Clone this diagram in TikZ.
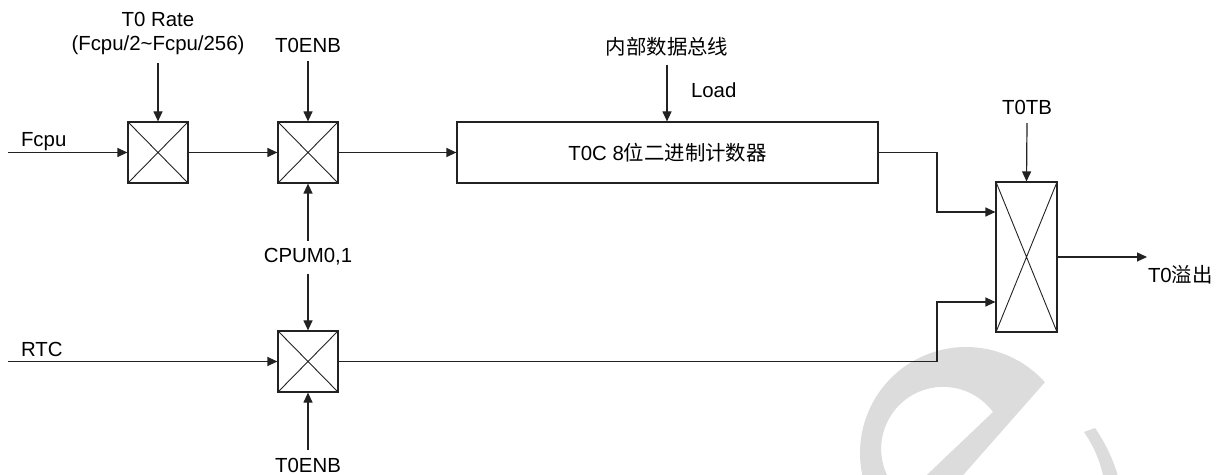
\documentclass[tikz,border=0pt]{standalone}
\usepackage{fontspec}
\setmainfont{Liberation Sans}
\newfontfamily\cjk{Noto Sans CJK SC}
\usetikzlibrary{arrows.meta}
\definecolor{ln}{HTML}{222222}
\definecolor{wmc}{HTML}{DCDCDC}
\begin{document}
\begin{tikzpicture}[x=0.5pt,y=-0.5pt,
  font=\fontsize{10.2}{12}\selectfont,
  mux/.style={draw=ln, line width=0.6pt, inner sep=0pt, minimum width=30pt, minimum height=30.5pt,
    path picture={\draw[ln, line width=0.45pt] (path picture bounding box.north west) -- (path picture bounding box.south east)
      (path picture bounding box.north east) -- (path picture bounding box.south west);}},
  lbl/.style={inner sep=0pt, outer sep=4pt},
  arr/.style={draw=ln, line width=0.6pt, -{Triangle[length=5pt,width=4.5pt]}},
  wm/.style={fill=wmc, draw=none}]
\useasboundingbox (0,0) rectangle (1225,475);
% watermark
\begin{scope}
\clip (0,0) rectangle (1225,475);
\path[wm] (966,453) ++(160:106) arc[start angle=160, end angle=318.1, radius=106]
  -- (950,490) -- (911,490) -- (993,412)
  arc[start angle=323.5, end angle=140, radius=62] -- cycle;
\path[wm] (1084,432) .. controls (1094,447) and (1100,460) .. (1104,480)
  -- (1119,480) .. controls (1114,461) and (1106,444) .. (1095,428) -- cycle;
\end{scope}
% blocks
\node[mux] (m1) at (158,152.5) {};
\node[mux] (m2) at (308,152.5) {};
\node[mux] (m3) at (308,361.5) {};
\node[draw=ln, line width=0.6pt, inner sep=0pt, minimum width=210.5pt, minimum height=30.5pt] (cnt) at (667.5,152.5) {T0C 8{\cjk 位二进制计数器}};
\node[mux, minimum width=30.5pt, minimum height=75pt] (m4) at (1026.5,257) {};
% labels
\node[lbl, anchor=north, align=center] (rate) at (158,4.5) {T0 Rate\\(Fcpu/2\textasciitilde Fcpu/256)};
\node[lbl, anchor=base] (en1) at (308,53) {T0ENB};
\node[lbl, anchor=base] (bus) at (667,55) {\cjk 内部数据总线};
\node[lbl, anchor=base west] (load) at (683,98) {Load};
\node[lbl, anchor=base] (tb) at (1027,115) {T0TB};
\node[lbl, anchor=base] (cpum) at (308,263) {CPUM0,1};
\node[lbl, anchor=base] (en2) at (308,472) {T0ENB};
\node[lbl, anchor=base west] (fcpu) at (13,147) {Fcpu};
\node[lbl, anchor=base west] (rtc) at (13,357) {RTC};
\node[lbl, anchor=base west] (ovf) at (1140,283) {T0{\cjk 溢出}};
% free ends / bends
\coordinate (fin) at (8,152.5);
\coordinate (rin) at (8,361.5);
\coordinate (out) at (1147,257);
\coordinate (k1) at (937,152.5);
\coordinate (k2) at (937,361.5);
% connectors
\draw[arr] (fin) -- (m1.west);
\draw[arr] (m1.east) -- (m2.west);
\draw[arr] (m2.east) -- (cnt.west);
\draw[arr] (rate.south) -- (m1.north);
\draw[arr] (en1.south) -- (m2.north);
\draw[arr] (cpum.north) -- (m2.south);
\draw[arr] (cpum.south) -- (m3.north);
\draw[arr] (en2.north) -- (m3.south);
\draw[arr] (rin) -- (m3.west);
\draw[arr] (bus.south) -- (bus.south |- cnt.north);
\draw[arr] (tb.south) -- (m4.north);
\draw[arr] (cnt.east) -- (k1) |- ([yshift=22.5pt]m4.west);
\draw[arr] (m3.east) -- (k2) |- ([yshift=-22.5pt]m4.west);
\draw[arr] (m4.east) -- (out);
\end{tikzpicture}
\end{document}
